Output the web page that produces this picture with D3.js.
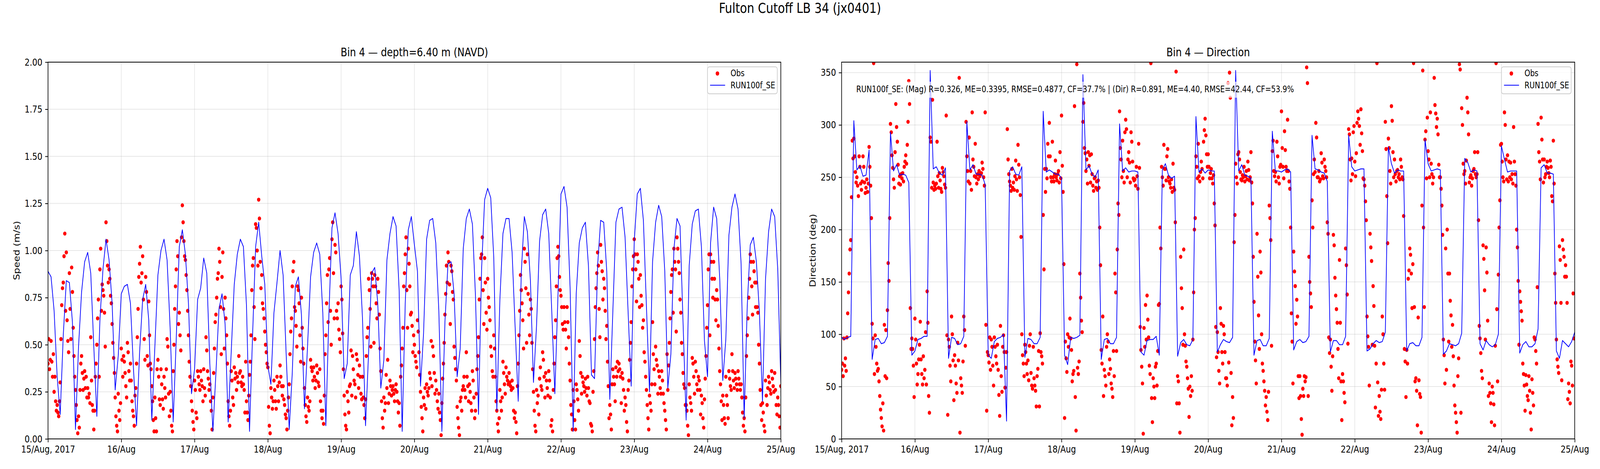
<!DOCTYPE html>
<html><head><meta charset="utf-8">
<script src="https://cdn.jsdelivr.net/npm/d3@7"></script>
<style>
html,body{margin:0;padding:0;background:#fff;overflow:hidden;}
svg{display:block;font-family:"DejaVu Sans",sans-serif;}
</style></head><body>
<svg id="chart" viewBox="0 0 5000 1200" preserveAspectRatio="none" width="5000" height="1200"></svg>
<script>
const figTitle = "Fulton Cutoff LB 34 (jx0401)";
const panelTitles = ["Bin 4 \u2014 depth=6.40 m (NAVD)", "Bin 4 \u2014 Direction"];
const yLabels = ["Speed (m/s)", "Direction (deg)"];
const seriesNames = ["Obs", "RUN100f_SE"];
const statsText = "RUN100f_SE: (Mag) R=0.326, ME=0.3395, RMSE=0.4877, CF=37.7% | (Dir) R=0.891, ME=4.40, RMSE=42.44, CF=53.9%";
const xTickLabels = ["15/Aug, 2017","16/Aug","17/Aug","18/Aug","19/Aug","20/Aug","21/Aug","22/Aug","23/Aug","24/Aug","25/Aug"];
const speedTicks = [0,0.25,0.5,0.75,1.0,1.25,1.5,1.75,2.0];
const dirTicks = [0,50,100,150,200,250,300,350];

// model: hourly from 2017-08-15 00:00
const modelSpeed = [0.89,0.86,0.68,0.33,0.13,0.55,0.84,0.83,0.62,0.05,
0.49,0.78,0.94,0.99,0.88,0.49,0.12,0.63,0.90,1.06,
0.95,0.72,0.26,0.44,0.77,0.81,0.82,0.72,0.37,0.07,
0.46,0.74,0.82,0.63,0.10,0.49,0.87,1.00,1.06,0.95,
0.59,0.09,0.53,1.02,1.11,0.98,0.72,0.24,0.37,0.74,
0.80,0.96,0.88,0.40,0.04,0.35,0.69,0.77,0.61,0.09,
0.46,0.82,0.98,1.06,1.02,0.71,0.04,0.55,1.02,1.15,
0.97,0.82,0.39,0.29,0.67,0.83,1.00,0.87,0.45,0.05,
0.35,0.81,0.86,0.66,0.16,0.49,0.86,0.99,1.04,0.98,
0.67,0.07,0.66,1.12,1.20,1.09,0.85,0.32,0.40,0.87,
0.92,1.10,0.97,0.64,0.07,0.46,0.88,0.91,0.72,0.27,
0.42,0.95,1.09,1.18,1.13,0.79,0.04,0.72,1.11,1.18,
1.03,0.89,0.28,0.56,1.06,1.16,1.17,1.04,0.68,0.04,
0.62,0.93,0.94,0.77,0.33,0.48,1.01,1.17,1.22,1.14,
0.76,0.13,0.90,1.27,1.33,1.28,0.96,0.15,0.74,1.09,
1.17,1.17,0.99,0.59,0.20,0.88,1.18,1.10,0.84,0.30,
0.60,1.05,1.19,1.22,1.09,0.67,0.24,0.75,1.30,1.34,
1.23,0.80,0.04,0.77,1.04,1.12,1.15,0.92,0.34,0.32,
0.92,1.16,1.15,0.89,0.21,0.68,1.15,1.22,1.23,1.07,
0.67,0.28,1.05,1.30,1.33,1.16,0.70,0.25,0.94,1.15,
1.24,1.18,0.89,0.27,0.45,1.01,1.17,1.13,0.61,0.10,
0.92,1.14,1.21,1.22,1.02,0.52,0.33,1.04,1.23,1.17,
0.85,0.31,0.53,1.08,1.23,1.30,1.22,0.93,0.11,0.70,
1.03,1.07,0.94,0.67,0.20,0.85,1.10,1.22,1.18,0.90,
0.30];

const modelDir = [97,95,97,98,304,257,261,251,252,276,
76,95,96,91,92,98,293,256,262,252,
253,252,245,80,84,95,96,98,98,352,
258,260,254,252,259,77,97,96,90,91,
98,303,257,262,253,253,252,243,80,77,
93,96,97,100,17,256,260,253,252,260,
78,96,95,91,91,97,313,255,257,255,
253,253,249,80,71,97,96,97,99,348,
257,261,253,250,257,76,95,96,91,91,
97,301,256,259,255,256,256,255,83,80,
94,95,95,98,80,257,263,252,249,251,
79,92,95,90,89,95,308,255,258,254,
257,256,256,83,90,95,93,92,97,352,
256,262,252,251,249,80,94,95,89,89,
96,294,256,256,255,257,258,255,85,93,
95,92,93,98,290,258,257,255,254,246,
83,94,94,90,90,98,290,260,256,257,
258,258,84,86,91,94,92,93,102,279,
263,254,257,256,256,84,91,92,89,89,
97,286,263,256,257,258,257,81,84,91,
90,89,91,101,268,264,255,257,256,91,
85,94,90,88,90,100,280,267,255,256,
256,256,82,90,93,88,88,91,105,259,
262,254,254,253,84,77,94,91,88,93,
102];

// observations: every 15 min from 2017-08-15 00:00; speed in cm/s
const obsSpeedCm = [40,53,37,42,52,41,33,45,25,33,20,15,18,14,12,20,30,53,71,80,83,97,109,68,99,63,52,46,88,69,53,91,78,59,44,33,26,18,10,3,
12,6,26,40,44,35,26,32,36,27,33,22,27,22,24,19,54,31,18,15,5,15,33,40,50,64,74,33,90,101,68,82,79,76,67,49,115,105,92,83,
90,85,76,72,61,51,43,35,22,12,7,4,24,15,10,19,48,42,33,44,41,35,28,22,51,46,36,31,40,31,20,15,12,7,23,27,40,54,69,86,
93,102,83,88,97,74,53,42,86,78,44,39,73,55,40,37,28,20,10,4,22,11,4,37,42,33,21,18,37,29,21,16,33,27,22,37,53,49,24,12,
25,15,7,4,36,50,69,81,90,105,97,61,67,55,47,107,124,115,105,97,95,87,79,68,55,41,33,28,20,15,9,5,31,26,14,11,36,33,29,26,
36,31,28,20,37,27,23,54,47,36,32,26,29,20,15,5,22,35,48,62,66,75,85,88,101,94,70,45,86,99,69,48,75,64,55,40,20,12,7,15,
36,31,22,18,38,32,35,26,33,30,44,35,36,30,28,33,29,26,14,41,20,14,10,23,34,41,55,79,92,96,70,53,114,112,100,92,127,117,94,80,
87,72,69,64,57,50,46,40,38,17,7,3,27,22,16,20,31,26,20,16,33,28,20,30,39,33,28,23,28,21,18,13,11,5,15,22,29,45,57,64,
81,89,94,70,68,60,49,81,79,72,55,41,75,59,48,40,27,18,12,9,22,17,15,20,42,38,36,31,38,33,27,31,39,35,30,28,37,20,15,11,
15,8,23,45,55,72,87,62,90,96,68,50,106,115,88,64,103,99,68,64,72,58,53,46,81,74,56,37,23,13,7,5,25,20,14,28,29,47,23,44,
37,31,29,22,45,42,34,27,39,33,24,21,33,22,18,11,21,44,54,59,85,79,69,49,88,85,81,51,87,81,72,64,85,78,66,48,36,20,11,6,
22,15,19,34,27,42,19,24,31,28,23,26,28,24,20,26,29,25,20,14,19,7,33,39,48,59,81,88,98,107,79,59,101,93,81,66,67,60,46,55,
50,44,41,38,63,57,46,34,25,17,11,4,22,18,27,16,29,25,23,27,35,32,52,28,49,44,35,24,31,26,20,16,24,14,10,2,19,32,40,51,
66,77,92,83,99,94,82,61,92,89,78,74,49,43,37,31,17,11,6,2,20,22,15,26,28,33,26,22,46,33,28,20,29,25,19,15,36,31,22,11,
15,24,37,44,54,74,85,96,98,107,79,61,96,83,67,58,85,75,70,63,49,44,36,33,55,48,33,20,15,8,4,11,26,20,15,22,41,35,29,24,
38,33,31,29,35,30,28,26,31,27,15,11,14,9,3,28,40,55,68,87,79,72,63,48,101,94,80,51,98,77,66,55,74,69,51,37,25,15,7,4,
26,19,23,13,32,38,28,26,46,42,33,22,35,31,27,23,36,31,22,7,10,4,26,40,54,63,81,96,102,97,86,79,76,70,61,58,70,62,58,48,
70,62,54,40,31,18,13,5,26,20,10,5,29,26,21,15,52,44,35,24,33,30,28,25,32,27,23,33,27,20,19,8,7,4,25,36,53,70,80,88,
99,92,69,54,103,94,89,74,85,80,68,53,60,41,28,11,18,13,5,29,37,33,29,20,38,33,41,36,40,37,33,19,35,32,26,15,22,18,9,4,
26,31,42,51,62,81,90,97,106,98,90,73,98,94,85,70,87,76,71,59,63,46,41,33,26,18,11,5,23,19,15,29,62,45,37,29,49,42,39,24,
36,33,27,24,36,31,24,19,15,10,5,45,26,39,51,64,78,87,90,67,101,94,90,57,107,101,94,88,74,67,51,45,35,29,27,18,18,15,7,2,
29,22,19,15,43,40,33,24,41,36,29,26,33,31,26,13,23,19,11,6,21,32,44,59,71,90,98,55,98,94,85,75,94,85,74,63,79,74,60,48,
36,29,20,10,23,18,11,8,33,23,18,11,36,32,28,26,45,36,31,27,35,32,29,26,36,32,29,26,29,22,14,7,11,4,22,44,55,64,75,85,
98,94,81,66,94,89,83,70,83,70,67,50,40,26,18,10,19,14,7,4,31,23,18,27,33,30,26,24,36,32,28,25,35,26,18,13,22,18,12,6,
28];

// observations: every 15 min, direction in degrees
const obsDir = [66,72,60,96,70,77,65,97,120,140,158,181,190,231,285,268,287,270,255,245,250,242,232,270,260,244,238,246,270,260,245,235,240,248,236,244,279,260,242,211,
110,96,359,62,99,88,72,65,67,55,41,28,20,12,34,8,109,60,104,58,123,168,151,211,301,293,271,259,248,240,274,320,298,284,262,244,251,243,253,249,
254,246,260,265,271,263,281,303,342,320,125,86,96,86,70,40,115,95,72,52,62,76,90,112,76,62,52,79,58,66,102,52,141,111,41,25,288,284,240,324,
245,238,242,239,244,284,251,240,254,247,239,236,259,255,251,243,240,309,99,23,95,88,70,55,117,100,75,37,80,70,53,44,92,75,345,6,58,51,44,74,
117,104,89,303,270,256,246,288,244,256,238,312,267,260,251,282,250,244,253,248,256,251,253,254,264,258,250,242,312,109,27,83,80,73,97,66,95,88,70,51,
97,88,79,72,90,66,42,22,108,60,45,88,99,83,49,68,83,296,267,253,246,242,237,258,240,245,238,251,266,248,237,281,262,250,233,193,100,80,72,60,
90,83,72,62,75,56,89,100,63,51,48,88,58,51,46,31,60,67,84,31,101,83,79,72,214,162,258,236,258,249,282,270,302,270,250,246,284,250,246,253,
266,250,247,253,256,245,274,249,309,261,236,167,20,93,77,64,100,88,97,115,96,85,55,62,65,318,40,8,358,68,62,74,158,135,113,102,303,321,278,273,
256,267,244,274,261,271,245,272,253,242,237,249,250,240,246,238,247,240,202,166,85,72,117,41,66,60,51,88,100,93,62,76,67,53,48,40,84,60,158,140,
84,181,225,214,313,278,267,250,285,256,245,293,305,296,250,267,274,264,245,293,284,265,249,247,248,242,260,251,239,282,259,107,85,69,53,5,106,88,128,95,
137,114,97,70,62,359,39,16,58,50,39,69,72,51,84,128,129,202,182,260,250,242,281,258,258,247,270,277,250,246,244,240,248,236,263,240,238,207,351,34,
60,55,34,6,174,144,125,90,181,100,89,74,69,58,48,21,50,41,60,46,95,140,200,211,270,260,249,282,251,246,255,265,258,249,284,295,306,290,272,260,
272,260,249,254,258,249,244,252,225,204,107,78,102,83,65,53,125,110,83,72,108,100,83,58,58,51,340,73,350,326,63,13,40,20,188,214,263,250,244,272,
274,267,255,248,247,252,250,260,246,251,256,248,265,257,247,250,274,245,225,174,131,93,75,53,196,155,118,86,179,159,100,72,65,55,46,32,40,26,18,45,
223,211,190,89,275,285,256,251,255,246,284,270,250,244,260,262,313,278,260,249,294,276,260,256,305,256,246,239,202,120,93,53,179,160,146,110,133,117,60,39,
60,41,19,4,48,41,60,55,59,355,340,41,174,150,139,126,228,202,253,267,255,302,288,250,250,256,246,248,273,264,251,249,267,260,256,250,207,196,97,82,
95,69,46,79,195,185,154,137,124,111,86,58,171,111,55,18,62,55,44,35,182,166,138,91,296,291,267,247,268,253,293,299,265,251,273,302,313,306,299,281,
315,292,275,249,248,242,227,209,117,98,88,51,196,183,170,90,146,127,89,30,72,359,54,22,41,26,19,47,117,100,72,47,303,277,232,187,287,278,256,244,
318,304,274,250,267,253,246,256,257,250,253,248,267,260,250,248,213,86,74,40,85,72,153,161,182,176,158,125,167,359,126,55,58,46,13,116,56,43,40,6,
223,352,202,126,286,294,249,307,275,267,250,312,263,253,244,250,345,319,311,298,306,291,262,250,250,239,223,195,95,80,53,182,66,200,158,93,158,132,118,88,
109,79,51,32,25,16,6,60,77,358,353,25,316,300,263,253,256,244,266,326,312,291,245,250,252,242,249,256,258,274,253,250,253,274,209,108,96,82,65,58,
185,172,142,95,183,159,113,41,53,44,34,16,50,44,33,13,89,359,124,55,157,202,228,281,282,265,250,246,312,300,267,248,271,246,265,250,264,248,253,244,
298,265,253,242,200,183,151,90,141,131,122,113,72,62,51,27,61,52,41,37,60,46,25,9,57,44,32,97,95,84,72,145,301,274,265,248,307,286,267,245,
267,250,253,260,265,259,254,250,266,260,232,227,285,244,158,130,95,76,69,63,184,171,130,56,190,181,174,155,166,155,130,38,53,45,34,74,70,51,139,96,
96];

// ---------------- drawing ----------------
const FONT = "DejaVu Sans";
const svg = d3.select("#chart");
// fit the 5000x1200 drawing to whatever viewport the page gets
const vw = window.innerWidth || 5000, vh = window.innerHeight || 1200;
svg.attr("width", vw).attr("height", vh);

const t0 = new Date(Date.UTC(2017,7,15,0,0,0));
const t1 = d3.utcDay.offset(t0,10);
const dayTicks = d3.utcDay.range(t0, d3.utcDay.offset(t1,1));
const hourTime = i => d3.utcHour.offset(t0,i);
const obsTime = i => d3.utcMinute.offset(t0,15*i);
const axTop = 159, axBottom = 1123;

const panels = [
  {id:"p0", left:150, right:2440, yDomain:[0,2], yTicks:speedTicks, fmt:d3.format(".2f"),
   model:modelSpeed, obs:obsSpeedCm.map(v=>v/100), title:panelTitles[0], ylabel:yLabels[0], labelX:61, stats:false},
  {id:"p1", left:2630, right:4921, yDomain:[0,360], yTicks:dirTicks, fmt:d3.format("d"),
   model:modelDir, obs:obsDir, title:panelTitles[1], ylabel:yLabels[1], labelX:2549, stats:true}
];

svg.append("rect").attr("x",0).attr("y",0).attr("width",5000).attr("height",1200).attr("fill","#fff");
svg.append("text").attr("x",2500).attr("y",33).attr("text-anchor","middle")
  .attr("font-family",FONT).attr("font-size",36).attr("fill","#000").text(figTitle);

const defs = svg.append("defs");

panels.forEach(p => {
  const x = d3.scaleUtc().domain([t0,t1]).range([p.left,p.right]);
  const y = d3.scaleLinear().domain(p.yDomain).range([axBottom,axTop]);

  defs.append("clipPath").attr("id","clip-"+p.id).append("rect")
    .attr("x",p.left).attr("y",axTop).attr("width",p.right-p.left).attr("height",axBottom-axTop);

  // grid
  const grid = svg.append("g").attr("clip-path",`url(#clip-${p.id})`);
  grid.selectAll("line.v").data(dayTicks).join("line")
    .attr("x1",d=>x(d)).attr("x2",d=>x(d)).attr("y1",axTop).attr("y2",axBottom)
    .attr("stroke","#b0b0b0").attr("stroke-opacity",0.3).attr("stroke-width",2);
  grid.selectAll("line.h").data(p.yTicks).join("line")
    .attr("x1",p.left).attr("x2",p.right).attr("y1",d=>y(d)).attr("y2",d=>y(d))
    .attr("stroke","#b0b0b0").attr("stroke-opacity",0.3).attr("stroke-width",2);

  // data
  const plot = svg.append("g").attr("clip-path",`url(#clip-${p.id})`);
  plot.selectAll("circle").data(p.obs).join("circle")
    .attr("cx",(d,i)=>x(obsTime(i))).attr("cy",d=>y(d)).attr("r",5.2).attr("fill","#ff0000");
  const line = d3.line().x((d,i)=>x(hourTime(i))).y(d=>y(d));
  plot.append("path").datum(p.model).attr("d",line)
    .attr("fill","none").attr("stroke","#0000ff").attr("stroke-width",2.2).attr("stroke-linejoin","round");

  // frame
  svg.append("rect").attr("x",p.left).attr("y",axTop).attr("width",p.right-p.left).attr("height",axBottom-axTop)
    .attr("fill","none").attr("stroke","#000").attr("stroke-width",2);

  // axes
  const gx = svg.append("g").attr("transform",`translate(0,${axBottom})`)
    .call(d3.axisBottom(x).tickValues(dayTicks).tickFormat((d,i)=>xTickLabels[i]).tickSize(8.75).tickPadding(8.75).tickSizeOuter(0));
  const gy = svg.append("g").attr("transform",`translate(${p.left},0)`)
    .call(d3.axisLeft(y).tickValues(p.yTicks).tickFormat(p.fmt).tickSize(8.75).tickPadding(8.75).tickSizeOuter(0));
  [gx,gy].forEach(g => {
    g.select(".domain").remove();
    g.attr("font-size",null).attr("font-family",null);
    g.selectAll("line").attr("stroke","#000").attr("stroke-width",2);
    g.selectAll("text").attr("font-size",25).attr("font-family",FONT).attr("fill","#000");
  });

  // titles
  svg.append("text").attr("x",(p.left+p.right)/2).attr("y",144).attr("text-anchor","middle")
    .attr("font-family",FONT).attr("font-size",30).attr("fill","#000").text(p.title);
  svg.append("text").attr("transform",`translate(${p.labelX},${(axTop+axBottom)/2}) rotate(-90)`)
    .attr("text-anchor","middle").attr("font-family",FONT).attr("font-size",25).attr("fill","#000").text(p.ylabel);

  // stats annotation
  if (p.stats) {
    const tx = p.left + 0.02*(p.right-p.left);
    const st = svg.append("g");
    const txt = st.append("text").attr("x",tx).attr("y",236).attr("font-family",FONT).attr("font-size",22.5)
      .attr("fill","#000").text(statsText);
    const bb = txt.node().getBBox();
    st.insert("rect","text").attr("x",bb.x-6.75).attr("y",209).attr("width",bb.width+13.5).attr("height",41)
      .attr("fill","#fff").attr("fill-opacity",0.7);
  }

  // legend
  const lg = svg.append("g").attr("transform",`translate(${p.right-229},171)`);
  lg.append("rect").attr("x",0).attr("y",0).attr("width",218).attr("height",69).attr("rx",6)
    .attr("fill","#fff").attr("fill-opacity",0.8).attr("stroke","#cccccc").attr("stroke-width",2);
  lg.append("circle").attr("cx",31).attr("cy",17).attr("r",5.5).attr("fill","#ff0000");
  lg.append("text").attr("x",72).attr("y",24).attr("font-family",FONT).attr("font-size",22.5).attr("fill","#000").text(seriesNames[0]);
  lg.append("line").attr("x1",8).attr("x2",55).attr("y1",47).attr("y2",47).attr("stroke","#0000ff").attr("stroke-width",2.2);
  lg.append("text").attr("x",72).attr("y",55).attr("font-family",FONT).attr("font-size",22.5).attr("fill","#000").text(seriesNames[1]);
});
</script>
</body></html>
